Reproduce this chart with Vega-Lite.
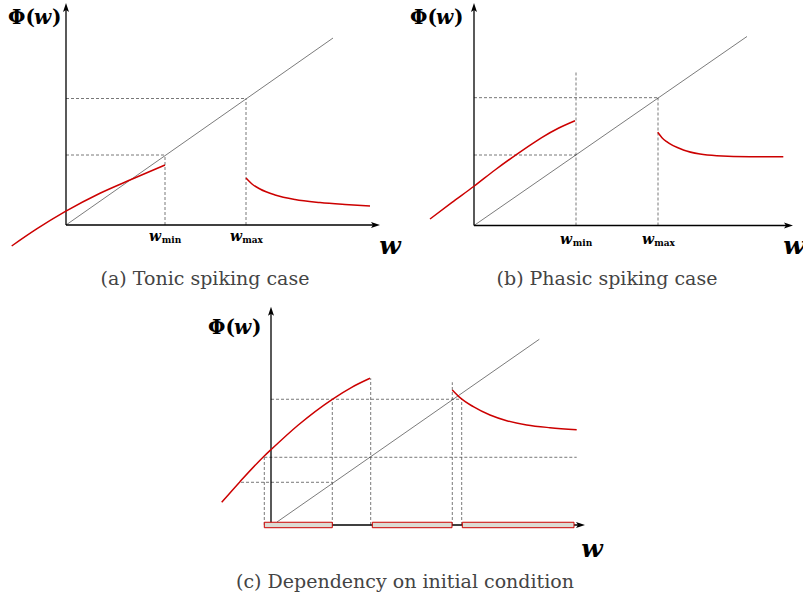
{
  "$schema": "https://vega.github.io/schema/vega-lite/v6.json",
  "padding": 0,
  "spacing": 0,
  "background": "white",
  "config": {"view": {"stroke": null}, "concat": {"spacing": 0}},
  "vconcat": [
    {
      "spacing": 0,
      "bounds": "flush",
      "hconcat": [
        {
          "width": 400, "height": 300,
          "encoding": {
            "x": {"field": "x", "type": "quantitative", "scale": {"domain": [-0.66, 3.34], "nice": false, "zero": false}, "axis": null},
            "y": {"field": "y", "type": "quantitative", "scale": {"domain": [-1.0714, 3.2143], "nice": false, "zero": false}, "axis": null}
          },
          "layer": [
            {"data": {"values": [
              {"x": 0, "y": 1.0, "x2": 0.99, "y2": 1.0},
              {"x": 0.99, "y": 0, "x2": 0.99, "y2": 1.0},
              {"x": 0, "y": 1.807, "x2": 1.8, "y2": 1.807},
              {"x": 1.8, "y": 0, "x2": 1.8, "y2": 1.807}
            ]},
             "mark": {"type": "rule", "stroke": "#555555", "strokeWidth": 0.8, "strokeDash": [3, 2]},
             "encoding": {"x2": {"field": "x2"}, "y2": {"field": "y2"}}},
            {"data": {"values": [{"x": 0, "y": 0, "x2": 2.67, "y2": 2.671}]},
             "mark": {"type": "rule", "stroke": "#222222", "strokeWidth": 0.6},
             "encoding": {"x2": {"field": "x2"}, "y2": {"field": "y2"}}},
            {"data": {"values": [{"x": 0, "y": 0, "x2": 3.09, "y2": 0}, {"x": 0, "y": 0, "x2": 0, "y2": 3.1}]},
             "mark": {"type": "rule", "stroke": "#000000", "strokeWidth": 1.3},
             "encoding": {"x2": {"field": "x2"}, "y2": {"field": "y2"}}},
            {"data": {"values": [{"x": 0, "y": 3.1}]},
             "mark": {"type": "point", "shape": "M0,-1L0.6,0.8L0,0.4L-0.6,0.8Z", "filled": true, "color": "#000000", "opacity": 1, "size": 100}},
            {"data": {"values": [{"x": 3.09, "y": 0}]},
             "mark": {"type": "point", "shape": "M1,0L-0.8,0.6L-0.4,0L-0.8,-0.6Z", "filled": true, "color": "#000000", "opacity": 1, "size": 100}},
            {"data": {"values": [
              {"seg": "L", "x": -0.543, "y": -0.3},
              {"seg": "L", "x": -0.293, "y": -0.057},
              {"seg": "L", "x": -0.01, "y": 0.19},
              {"seg": "L", "x": 0.34, "y": 0.453},
              {"seg": "L", "x": 0.657, "y": 0.653},
              {"seg": "L", "x": 0.99, "y": 0.857},
              {"seg": "R", "x": 1.8, "y": 0.671},
              {"seg": "R", "x": 1.86, "y": 0.586},
              {"seg": "R", "x": 1.94, "y": 0.514},
              {"seg": "R", "x": 2.09, "y": 0.429},
              {"seg": "R", "x": 2.29, "y": 0.364},
              {"seg": "R", "x": 2.54, "y": 0.321},
              {"seg": "R", "x": 2.79, "y": 0.293},
              {"seg": "R", "x": 3.04, "y": 0.271}
            ]},
             "mark": {"type": "line", "color": "#cc0000", "strokeWidth": 1.5, "interpolate": "monotone"},
             "encoding": {"detail": {"field": "seg"}}},
            {"data": {"values": [{"x": -0.58, "y": 2.957, "t": "Φ("}]},
             "mark": {"type": "text", "align": "left", "font": "DejaVu Serif", "fontWeight": "bold", "fontSize": 20, "color": "#000000"},
             "encoding": {"text": {"field": "t"}}},
            {"data": {"values": [{"x": -0.58, "y": 2.957, "t": "w"}]},
             "mark": {"type": "text", "align": "left", "dx": 26, "font": "DejaVu Serif", "fontWeight": "bold", "fontStyle": "italic", "fontSize": 20, "color": "#000000"},
             "encoding": {"text": {"field": "t"}}},
            {"data": {"values": [{"x": -0.58, "y": 2.957, "t": ")"}]},
             "mark": {"type": "text", "align": "left", "dx": 44, "font": "DejaVu Serif", "fontWeight": "bold", "fontSize": 20, "color": "#000000"},
             "encoding": {"text": {"field": "t"}}},
            {"data": {"values": [{"x": 3.24, "y": -0.3, "t": "w"}]},
             "mark": {"type": "text", "font": "DejaVu Serif", "fontWeight": "bold", "fontStyle": "italic", "fontSize": 25, "color": "#000000"},
             "encoding": {"text": {"field": "t"}}},
            {"data": {"values": [{"x": 0.99, "y": -0.171, "t": "w"}, {"x": 1.8, "y": -0.171, "t": "w"}]},
             "mark": {"type": "text", "font": "DejaVu Serif", "fontWeight": "bold", "fontStyle": "italic", "fontSize": 14, "dx": -10, "color": "#000000"},
             "encoding": {"text": {"field": "t"}}},
            {"data": {"values": [{"x": 0.99, "y": -0.171, "t": "min"}, {"x": 1.8, "y": -0.171, "t": "max"}]},
             "mark": {"type": "text", "font": "DejaVu Serif", "fontWeight": "bold", "fontSize": 9, "dx": 6.5, "dy": 3, "color": "#000000"},
             "encoding": {"text": {"field": "t"}}},
            {"data": {"values": [{"x": 1.39, "y": -0.771, "t": "(a)  Tonic spiking case"}]},
             "mark": {"type": "text", "font": "DejaVu Serif", "fontSize": 19, "color": "#444444"},
             "encoding": {"text": {"field": "t"}}}
          ]
        },
        {
          "width": 403, "height": 300,
          "encoding": {
            "x": {"field": "x", "type": "quantitative", "scale": {"domain": [-0.74, 3.29], "nice": false, "zero": false}, "axis": null},
            "y": {"field": "y", "type": "quantitative", "scale": {"domain": [-1.064, 3.221], "nice": false, "zero": false}, "axis": null}
          },
          "layer": [
            {"data": {"values": [
              {"x": 0, "y": 1.007, "x2": 1.02, "y2": 1.007},
              {"x": 1.02, "y": 0, "x2": 1.02, "y2": 2.19},
              {"x": 0, "y": 1.826, "x2": 1.84, "y2": 1.826},
              {"x": 1.84, "y": 0, "x2": 1.84, "y2": 1.826}
            ]},
             "mark": {"type": "rule", "stroke": "#555555", "strokeWidth": 0.8, "strokeDash": [3, 2]},
             "encoding": {"x2": {"field": "x2"}, "y2": {"field": "y2"}}},
            {"data": {"values": [{"x": 0, "y": 0, "x2": 2.73, "y2": 2.70}]},
             "mark": {"type": "rule", "stroke": "#222222", "strokeWidth": 0.6},
             "encoding": {"x2": {"field": "x2"}, "y2": {"field": "y2"}}},
            {"data": {"values": [{"x": 0, "y": 0, "x2": 3.14, "y2": 0}, {"x": 0, "y": 0, "x2": 0, "y2": 3.107}]},
             "mark": {"type": "rule", "stroke": "#000000", "strokeWidth": 1.3},
             "encoding": {"x2": {"field": "x2"}, "y2": {"field": "y2"}}},
            {"data": {"values": [{"x": 0, "y": 3.107}]},
             "mark": {"type": "point", "shape": "M0,-1L0.6,0.8L0,0.4L-0.6,0.8Z", "filled": true, "color": "#000000", "opacity": 1, "size": 100}},
            {"data": {"values": [{"x": 3.14, "y": 0}]},
             "mark": {"type": "point", "shape": "M1,0L-0.8,0.6L-0.4,0L-0.8,-0.6Z", "filled": true, "color": "#000000", "opacity": 1, "size": 100}},
            {"data": {"values": [
              {"seg": "L", "x": -0.44, "y": 0.093},
              {"seg": "L", "x": -0.223, "y": 0.326},
              {"seg": "L", "x": 0.003, "y": 0.564},
              {"seg": "L", "x": 0.21, "y": 0.793},
              {"seg": "L", "x": 0.427, "y": 1.017},
              {"seg": "L", "x": 0.577, "y": 1.164},
              {"seg": "L", "x": 0.677, "y": 1.256},
              {"seg": "L", "x": 0.843, "y": 1.389},
              {"seg": "L", "x": 1.01, "y": 1.497},
              {"seg": "R", "x": 1.837, "y": 1.331},
              {"seg": "R", "x": 1.88, "y": 1.255},
              {"seg": "R", "x": 1.927, "y": 1.197},
              {"seg": "R", "x": 2.093, "y": 1.079},
              {"seg": "R", "x": 2.26, "y": 1.021},
              {"seg": "R", "x": 2.427, "y": 0.997},
              {"seg": "R", "x": 2.76, "y": 0.983},
              {"seg": "R", "x": 3.093, "y": 0.983}
            ]},
             "mark": {"type": "line", "color": "#cc0000", "strokeWidth": 1.5, "interpolate": "monotone"},
             "encoding": {"detail": {"field": "seg"}}},
            {"data": {"values": [{"x": -0.64, "y": 2.964, "t": "Φ("}]},
             "mark": {"type": "text", "align": "left", "font": "DejaVu Serif", "fontWeight": "bold", "fontSize": 20, "color": "#000000"},
             "encoding": {"text": {"field": "t"}}},
            {"data": {"values": [{"x": -0.64, "y": 2.964, "t": "w"}]},
             "mark": {"type": "text", "align": "left", "dx": 26, "font": "DejaVu Serif", "fontWeight": "bold", "fontStyle": "italic", "fontSize": 20, "color": "#000000"},
             "encoding": {"text": {"field": "t"}}},
            {"data": {"values": [{"x": -0.64, "y": 2.964, "t": ")"}]},
             "mark": {"type": "text", "align": "left", "dx": 44, "font": "DejaVu Serif", "fontWeight": "bold", "fontSize": 20, "color": "#000000"},
             "encoding": {"text": {"field": "t"}}},
            {"data": {"values": [{"x": 3.2, "y": -0.293, "t": "w"}]},
             "mark": {"type": "text", "font": "DejaVu Serif", "fontWeight": "bold", "fontStyle": "italic", "fontSize": 25, "color": "#000000"},
             "encoding": {"text": {"field": "t"}}},
            {"data": {"values": [{"x": 1.02, "y": -0.207, "t": "w"}, {"x": 1.84, "y": -0.207, "t": "w"}]},
             "mark": {"type": "text", "font": "DejaVu Serif", "fontWeight": "bold", "fontStyle": "italic", "fontSize": 14, "dx": -10, "color": "#000000"},
             "encoding": {"text": {"field": "t"}}},
            {"data": {"values": [{"x": 1.02, "y": -0.207, "t": "min"}, {"x": 1.84, "y": -0.207, "t": "max"}]},
             "mark": {"type": "text", "font": "DejaVu Serif", "fontWeight": "bold", "fontSize": 9, "dx": 6.5, "dy": 3, "color": "#000000"},
             "encoding": {"text": {"field": "t"}}},
            {"data": {"values": [{"x": 1.33, "y": -0.764, "t": "(b)  Phasic spiking case"}]},
             "mark": {"type": "text", "font": "DejaVu Serif", "fontSize": 19, "color": "#444444"},
             "encoding": {"text": {"field": "t"}}}
          ]
        }
      ]
    },
    {
      "width": 803, "height": 298,
      "encoding": {
        "x": {"field": "x", "type": "quantitative", "scale": {"domain": [-2.71, 5.32], "nice": false, "zero": false}, "axis": null},
        "y": {"field": "y", "type": "quantitative", "scale": {"domain": [-1.043, 3.214], "nice": false, "zero": false}, "axis": null}
      },
      "layer": [
        {"data": {"values": [
          {"x": 0, "y": 1.796, "x2": 1.907, "y2": 1.796},
          {"x": -0.067, "y": 0.967, "x2": 3.057, "y2": 0.967},
          {"x": -0.3, "y": 0.61, "x2": 0.613, "y2": 0.61},
          {"x": -0.067, "y": 0, "x2": -0.067, "y2": 0.967},
          {"x": 0.613, "y": 0, "x2": 0.613, "y2": 1.796},
          {"x": 0.997, "y": 0, "x2": 0.997, "y2": 2.096},
          {"x": 1.813, "y": 0, "x2": 1.813, "y2": 2.039},
          {"x": 1.907, "y": 0, "x2": 1.907, "y2": 1.796}
        ]},
         "mark": {"type": "rule", "stroke": "#555555", "strokeWidth": 0.8, "strokeDash": [3, 2]},
         "encoding": {"x2": {"field": "x2"}, "y2": {"field": "y2"}}},
        {"data": {"values": [{"x": 0.06, "y": 0.043, "x2": 2.683, "y2": 2.653}]},
         "mark": {"type": "rule", "stroke": "#222222", "strokeWidth": 0.6},
         "encoding": {"x2": {"field": "x2"}, "y2": {"field": "y2"}}},
        {"data": {"values": [{"x": 0, "y": 0, "x2": 3.09, "y2": 0}, {"x": 0, "y": 0, "x2": 0, "y2": 3.047}]},
         "mark": {"type": "rule", "stroke": "#000000", "strokeWidth": 1.3},
         "encoding": {"x2": {"field": "x2"}, "y2": {"field": "y2"}}},
        {"data": {"values": [{"x": 0, "y": 3.047}]},
         "mark": {"type": "point", "shape": "M0,-1L0.6,0.8L0,0.4L-0.6,0.8Z", "filled": true, "color": "#000000", "opacity": 1, "size": 100}},
        {"data": {"values": [{"x": 3.09, "y": 0}]},
         "mark": {"type": "point", "shape": "M1,0L-0.8,0.6L-0.4,0L-0.8,-0.6Z", "filled": true, "color": "#000000", "opacity": 1, "size": 100}},
        {"data": {"values": [
          {"x": -0.067, "x2": 0.613, "y": -0.039, "y2": 0.039},
          {"x": 1.013, "x2": 1.81, "y": -0.039, "y2": 0.039},
          {"x": 1.913, "x2": 3.03, "y": -0.039, "y2": 0.039}
        ]},
         "mark": {"type": "rect", "fill": "#dcdcd4", "stroke": "#cc0000", "strokeWidth": 1},
         "encoding": {"x2": {"field": "x2"}, "y2": {"field": "y2"}}},
        {"data": {"values": [
          {"seg": "L", "x": -0.493, "y": 0.324},
          {"seg": "L", "x": -0.31, "y": 0.619},
          {"seg": "L", "x": -0.067, "y": 0.986},
          {"seg": "L", "x": 0.007, "y": 1.086},
          {"seg": "L", "x": 0.273, "y": 1.429},
          {"seg": "L", "x": 0.613, "y": 1.796},
          {"seg": "L", "x": 0.807, "y": 1.967},
          {"seg": "L", "x": 0.99, "y": 2.096},
          {"seg": "R", "x": 1.813, "y": 1.929},
          {"seg": "R", "x": 1.89, "y": 1.819},
          {"seg": "R", "x": 2.023, "y": 1.69},
          {"seg": "R", "x": 2.19, "y": 1.571},
          {"seg": "R", "x": 2.357, "y": 1.49},
          {"seg": "R", "x": 2.557, "y": 1.429},
          {"seg": "R", "x": 2.79, "y": 1.39},
          {"seg": "R", "x": 3.057, "y": 1.361}
        ]},
         "mark": {"type": "line", "color": "#cc0000", "strokeWidth": 1.5, "interpolate": "monotone"},
         "encoding": {"detail": {"field": "seg"}}},
        {"data": {"values": [{"x": -0.63, "y": 2.814, "t": "Φ("}]},
         "mark": {"type": "text", "align": "left", "font": "DejaVu Serif", "fontWeight": "bold", "fontSize": 20, "color": "#000000"},
         "encoding": {"text": {"field": "t"}}},
        {"data": {"values": [{"x": -0.63, "y": 2.814, "t": "w"}]},
         "mark": {"type": "text", "align": "left", "dx": 26, "font": "DejaVu Serif", "fontWeight": "bold", "fontStyle": "italic", "fontSize": 20, "color": "#000000"},
         "encoding": {"text": {"field": "t"}}},
        {"data": {"values": [{"x": -0.63, "y": 2.814, "t": ")"}]},
         "mark": {"type": "text", "align": "left", "dx": 44, "font": "DejaVu Serif", "fontWeight": "bold", "fontSize": 20, "color": "#000000"},
         "encoding": {"text": {"field": "t"}}},
        {"data": {"values": [{"x": 3.21, "y": -0.343, "t": "w"}]},
         "mark": {"type": "text", "font": "DejaVu Serif", "fontWeight": "bold", "fontStyle": "italic", "fontSize": 25, "color": "#000000"},
         "encoding": {"text": {"field": "t"}}},
        {"data": {"values": [{"x": 1.34, "y": -0.814, "t": "(c)  Dependency on initial condition"}]},
         "mark": {"type": "text", "font": "DejaVu Serif", "fontSize": 19, "color": "#444444"},
         "encoding": {"text": {"field": "t"}}}
      ]
    }
  ]
}
